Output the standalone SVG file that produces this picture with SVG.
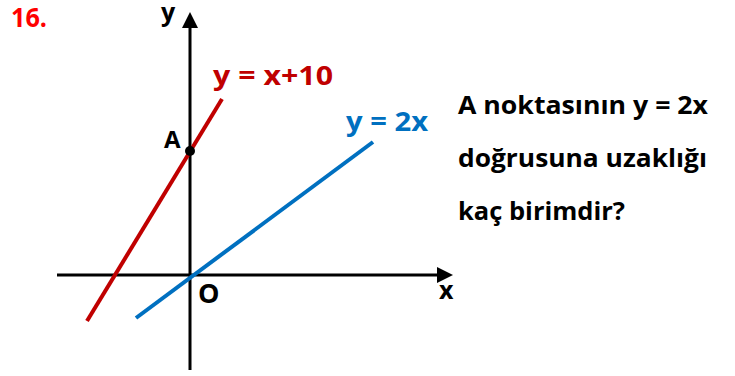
<svg xmlns="http://www.w3.org/2000/svg" width="735" height="376" viewBox="0 0 735 376">
<style>
text{font-family:"Open Sans","Noto Sans","Liberation Sans",sans-serif;font-weight:bold}
.ax{stroke:#000;stroke-width:3;fill:none}
.q{font-size:25px;fill:#000}
</style>
<rect width="735" height="376" fill="#fff"/>
<text x="11" y="27" font-size="27" fill="#ff0000" textLength="36" lengthAdjust="spacingAndGlyphs">16.</text>
<g id="axes">
<line class="ax" x1="190" y1="370" x2="190" y2="26"/>
<polygon points="190,12 182,28 198,28" fill="#000"/>
<line class="ax" x1="57" y1="275" x2="438" y2="275"/>
<polygon points="453,275 437,267 437,283" fill="#000"/>
<text x="161" y="21" font-size="25" fill="#000">y</text>
<text x="439" y="299" font-size="25" fill="#000">x</text>
<text x="198" y="303" font-size="27" fill="#000">O</text>
</g>
<g id="connectors">
<line x1="87" y1="321" x2="222" y2="99" stroke="#c00000" stroke-width="4"/>
<line x1="136" y1="318" x2="373" y2="142" stroke="#0070c0" stroke-width="4"/>
</g>
<g id="pointA">
<circle cx="190" cy="151" r="5" fill="#000"/>
<text x="164" y="148" font-size="24" fill="#000">A</text>
</g>
<text x="213" y="85" font-size="26" fill="#c00000" textLength="120" lengthAdjust="spacingAndGlyphs">y = x+10</text>
<text x="346" y="131" font-size="26" fill="#0070c0" textLength="82" lengthAdjust="spacingAndGlyphs">y = 2x</text>
<g id="question">
<text class="q" x="458" y="114" textLength="250" lengthAdjust="spacingAndGlyphs">A noktasının y = 2x</text>
<text class="q" x="458" y="167" textLength="249" lengthAdjust="spacingAndGlyphs">doğrusuna uzaklığı</text>
<text class="q" x="458" y="220" textLength="167" lengthAdjust="spacingAndGlyphs">kaç birimdir?</text>
</g>
</svg>
